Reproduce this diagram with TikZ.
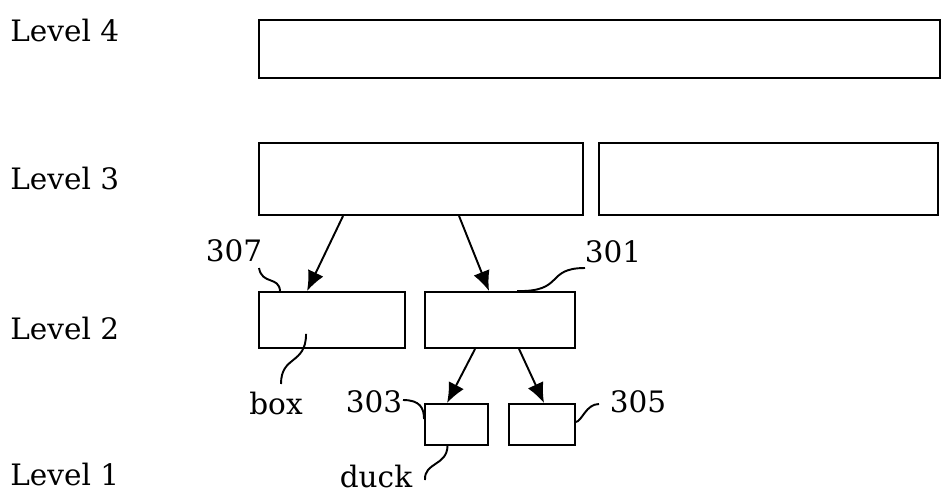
\documentclass[tikz,border=0pt]{standalone}
\usepackage{fontspec}
\setmainfont{DejaVu Serif}
\usetikzlibrary{arrows.meta}
\tikzset{
  blk/.style={draw, line width=1.1pt, inner sep=0pt},
  lbl/.style={inner sep=0pt, font=\fontsize{16.8}{20}\selectfont},
  arr/.style={line width=1.1pt, -{Latex[length=4mm,width=3.4mm]}},
  lead/.style={line width=1.1pt}
}
\begin{document}
\begin{tikzpicture}[x=0.02cm, y=-0.02cm]
\useasboundingbox (0,0) rectangle (943,501);
% Level names
\node[lbl, anchor=west] (lv4) at (10,30) {Level 4};
\node[lbl, anchor=west] (lv3) at (10,178) {Level 3};
\node[lbl, anchor=west] (lv2) at (10,328) {Level 2};
\node[lbl, anchor=west] (lv1) at (10,474) {Level 1};
% Boxes
\node[blk, minimum width=13.62cm, minimum height=1.16cm] (top) at (599.5,49) {};
\node[blk, minimum width=6.48cm, minimum height=1.44cm] (midA) at (421,179) {};
\node[blk, minimum width=6.78cm, minimum height=1.44cm] (midB) at (768.5,179) {};
\node[blk, minimum width=2.92cm, minimum height=1.12cm] (lowA) at (332,320) {};
\node[blk, minimum width=3.00cm, minimum height=1.12cm] (lowB) at (500,320) {};
\node[blk, minimum width=1.26cm, minimum height=0.82cm] (leafA) at (456.5,424.5) {};
\node[blk, minimum width=1.32cm, minimum height=0.82cm] (leafB) at (542,424.5) {};
% Arrows between levels
\draw[arr] ([xshift=1.70cm]midA.south west) -- ([xshift=0.98cm]lowA.north west);
\draw[arr] ([xshift=4.02cm]midA.south west) -- ([xshift=1.30cm]lowB.north west);
\draw[arr] ([xshift=1.02cm]lowB.south west) -- ([xshift=0.46cm]leafA.north west);
\draw[arr] ([xshift=1.90cm]lowB.south west) -- ([xshift=0.72cm]leafB.north west);
% Reference labels
\node[lbl] (r307) at (234,251) {307};
\node[lbl] (r301) at (613,252) {301};
\node[lbl] (rbox) at (276,403) {box};
\node[lbl] (r303) at (374,402) {303};
\node[lbl] (rduck) at (376,476) {duck};
\node[lbl] (r305) at (638,402) {305};
% Leader ends
\coordinate (e307) at (259,268);
\coordinate (e301) at (585,268);
\coordinate (ebox) at (281,384);
\coordinate (e303) at (403,400);
\coordinate (educk) at (425,480);
\coordinate (e305) at (599,404);
% Leader lines
\draw[lead] (e307) .. controls (262,285) and (279,276) .. ([xshift=0.44cm]lowA.north west);
\draw[lead] (e301) .. controls (545,268) and (565,292) .. ([xshift=1.86cm]lowB.north west);
\draw[lead] (ebox) .. controls (281,355) and (306,365) .. ([xshift=0.96cm,yshift=0.3cm]lowA.south west);
\draw[lead] (e303) .. controls (420,400) and (424,408) .. ([yshift=-0.32cm]leafA.north west);
\draw[lead] (educk) .. controls (424,462) and (447,466) .. ([xshift=-0.18cm]leafA.south);
\draw[lead] (e305) .. controls (586,404) and (582,421) .. ([yshift=-0.38cm]leafB.north east);
\end{tikzpicture}
\end{document}
